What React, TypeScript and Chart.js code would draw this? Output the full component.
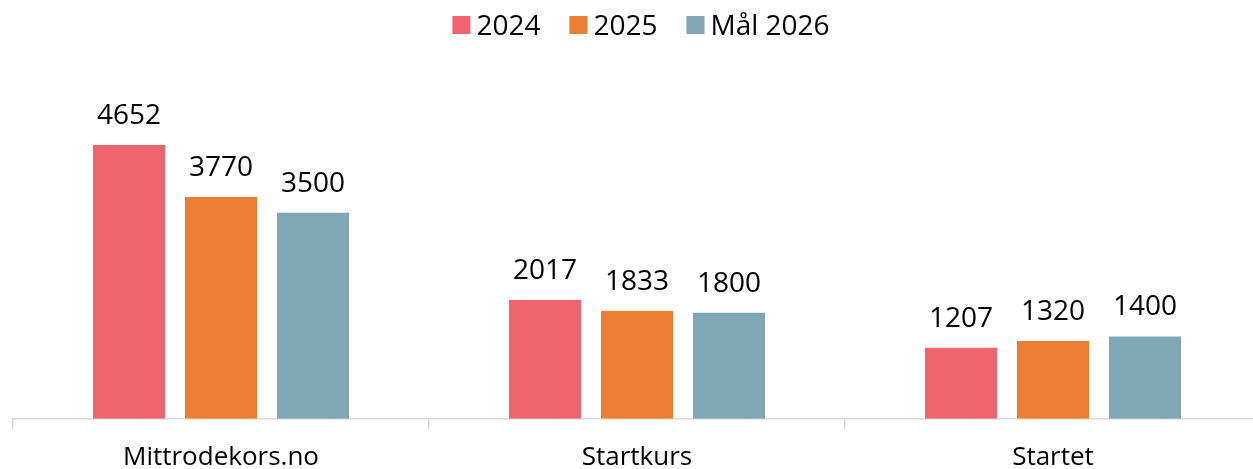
import React, { useEffect, useRef } from "react";
import { Chart, registerables } from "chart.js";

Chart.register(...registerables);

const categories = ["Mittrodekors.no", "Startkurs", "Startet"];
const seriesNames = ["2024", "2025", "Mål 2026"];
const values2024 = [4652, 2017, 1207];
const values2025 = [3770, 1833, 1320];
const valuesGoal2026 = [3500, 1800, 1400];
const seriesColors = ["#F1646F", "#ED7D31", "#7FA7B5"];
const yMin = 0;
const yMax = 5000;

const FONT_FAMILY = "'Open Sans', 'Noto Sans', sans-serif";
const FONT_SIZE = 28;

const dataLabelPlugin = {
  id: "dataLabels",
  afterDatasetsDraw(chart: any) {
    const ctx = chart.ctx;
    ctx.save();
    ctx.font = `${FONT_SIZE}px ${FONT_FAMILY}`;
    ctx.fillStyle = "#000";
    ctx.textAlign = "center";
    ctx.textBaseline = "alphabetic";
    chart.data.datasets.forEach((ds: any, i: number) => {
      const meta = chart.getDatasetMeta(i);
      meta.data.forEach((el: any, j: number) => {
        ctx.fillText(String(ds.data[j]), el.x, el.y - 21);
      });
    });
    ctx.restore();
  },
};

const customLegendPlugin = {
  id: "customLegend",
  afterDraw(chart: any) {
    const ctx = chart.ctx;
    ctx.save();
    ctx.font = `${FONT_SIZE}px ${FONT_FAMILY}`;
    ctx.textBaseline = "alphabetic";
    ctx.textAlign = "left";
    const box = 18;
    const boxGap = 6;
    const itemGap = 29;
    const items = chart.data.datasets.map((ds: any) => ({
      label: ds.label,
      color: ds.backgroundColor,
      w: ctx.measureText(ds.label).width,
    }));
    const total =
      items.reduce((s: number, it: any) => s + box + boxGap + it.w, 0) +
      itemGap * (items.length - 1);
    let x = 641 - total / 2;
    const baseline = 35;
    items.forEach((it: any) => {
      ctx.fillStyle = it.color;
      ctx.fillRect(x, 16, box, box);
      x += box + boxGap;
      ctx.fillStyle = "#000";
      ctx.fillText(it.label, x, baseline);
      x += it.w + itemGap;
    });
    ctx.restore();
  },
};

export default function App() {
  const canvasRef = useRef<HTMLCanvasElement | null>(null);

  useEffect(() => {
    document.body.style.margin = "0";
    const canvas = canvasRef.current;
    if (!canvas) return;
    const chart = new Chart(canvas, {
      type: "bar",
      data: {
        labels: categories,
        datasets: [
          { label: seriesNames[0], data: values2024, backgroundColor: seriesColors[0] },
          { label: seriesNames[1], data: values2025, backgroundColor: seriesColors[1] },
          { label: seriesNames[2], data: valuesGoal2026, backgroundColor: seriesColors[2] },
        ],
      },
      options: {
        responsive: false,
        animation: false,
        devicePixelRatio: 1,
        layout: { padding: { top: 124.5, left: 13, right: 0, bottom: 0 } },
        datasets: {
          bar: { categoryPercentage: 276 / 416, barPercentage: 72 / 92 },
        },
        plugins: {
          legend: { display: false },
          tooltip: { enabled: false },
        },
        scales: {
          x: {
            grid: {
              offset: true,
              drawOnChartArea: false,
              drawTicks: true,
              tickLength: 10,
              color: "#D9D9D9",
              lineWidth: 1.5,
            },
            border: { color: "#D9D9D9", width: 1.5 },
            ticks: {
              color: "#000",
              font: { family: FONT_FAMILY, size: 26 },
              padding: 13,
              maxRotation: 0,
            },
          },
          y: { display: false, min: yMin, max: yMax },
        },
      },
      plugins: [dataLabelPlugin, customLegendPlugin],
    });
    return () => chart.destroy();
  }, []);

  return (
    <div style={{ position: "absolute", left: 0, top: 0, width: 1253, height: 469, overflow: "hidden", background: "#fff" }}>
      <canvas ref={canvasRef} width={1261} height={486} style={{ display: "block" }} />
    </div>
  );
}
